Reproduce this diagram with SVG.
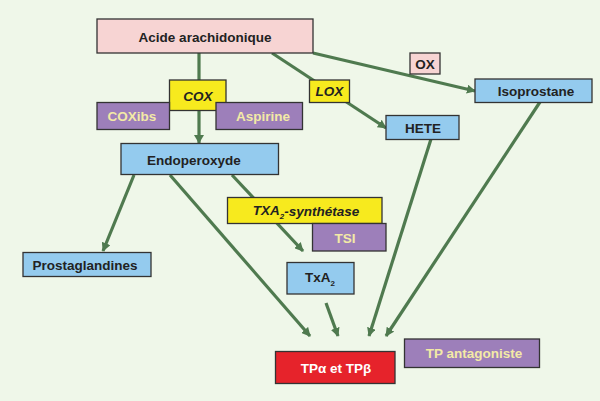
<svg xmlns="http://www.w3.org/2000/svg" width="600" height="401" viewBox="0 0 600 401">
<defs>
<marker id="ah" viewBox="0 0 10 10" refX="9" refY="5" markerWidth="9" markerHeight="9" markerUnits="userSpaceOnUse" orient="auto">
<path d="M0,0 L10,5 L0,10 z" fill="#4f7a4f"/>
</marker>
<style>
.bx{stroke:#333;stroke-width:1.3}
.pink{fill:#f7d4d3}
.blue{fill:#94cbee}
.yel{fill:#f7ea1e}
.pur{fill:#9d7fba}
.red{fill:#e6232b}
text{font-family:"Liberation Sans","DejaVu Sans",sans-serif;font-weight:bold;font-size:13.5px;text-anchor:middle;dominant-baseline:central}
.dk{fill:#222}
.cr{fill:#f3eaa6}
.wh{fill:#fff}
.it{font-style:italic}
.cn line{stroke:#4f7a4f;stroke-width:3.2;fill:none}
</style>
</defs>
<rect width="600" height="401" fill="#eff7e9"/>
<g class="cn" id="connectors">
<line x1="199" y1="53" x2="199" y2="143"/>
<line x1="272" y1="53" x2="386" y2="128" marker-end="url(#ah)"/>
<line x1="313" y1="53" x2="475" y2="91" marker-end="url(#ah)"/>
<line x1="134" y1="175" x2="103" y2="251" marker-end="url(#ah)"/>
<line x1="170" y1="175" x2="310" y2="336" marker-end="url(#ah)"/>
<line x1="232" y1="175" x2="303" y2="251" marker-end="url(#ah)"/>
<line x1="326" y1="303" x2="338" y2="336" marker-end="url(#ah)"/>
<line x1="431" y1="139" x2="369" y2="336" marker-end="url(#ah)"/>
<line x1="540" y1="102" x2="386" y2="336" marker-end="url(#ah)"/>
<path d="M194,135 L199,143.5 L204,135 z" fill="#4f7a4f"/>
</g>
<g id="acide"><rect class="bx pink" x="97" y="19" width="216" height="34"/><text class="dk" x="205" y="37">Acide arachidonique</text></g>
<g id="ox"><rect class="bx pink" x="410" y="53" width="30" height="21"/><text class="dk" x="425" y="64">OX</text></g>
<g id="cox"><rect class="bx yel" x="169.5" y="80" width="56.5" height="30.5"/><text class="dk it" x="198" y="96">COX</text></g>
<g id="lox"><rect class="bx yel" x="309.5" y="80" width="40" height="22.5"/><text class="dk it" x="329.5" y="91.5">LOX</text></g>
<g id="isoprostane"><rect class="bx blue" x="475" y="79" width="117" height="23.5"/><text class="dk" x="536" y="91">Isoprostane</text></g>
<g id="coxibs"><rect class="bx pur" x="97" y="102.5" width="72.5" height="27"/><text class="cr" x="132" y="116.5">COXibs</text></g>
<g id="aspirine"><rect class="bx pur" x="216" y="102.5" width="86.5" height="27"/><text class="cr" x="263" y="116.5">Aspirine</text></g>
<g id="hete"><rect class="bx blue" x="386" y="115.5" width="73" height="24"/><text class="dk" x="423" y="128">HETE</text></g>
<g id="endoperoxyde"><rect class="bx blue" x="121" y="143.5" width="157.5" height="31"/><text class="dk" x="194" y="160">Endoperoxyde</text></g>
<g id="txa2synth"><rect class="bx yel" x="227.5" y="197.5" width="154.5" height="26"/><text class="dk it" x="306" y="210.5">TXA<tspan font-size="8" dy="5">2</tspan><tspan dy="-5">-synthétase</tspan></text></g>
<g id="tsi"><rect class="bx pur" x="312.5" y="223.5" width="73.5" height="27.5"/><text class="cr" x="345" y="238">TSI</text></g>
<g id="prostaglandines"><rect class="bx blue" x="23" y="252.5" width="128" height="24"/><text class="dk" x="85" y="265">Prostaglandines</text></g>
<g id="txa2"><rect class="bx blue" x="287" y="262.5" width="67" height="31.5"/><text class="dk" x="320" y="277.5">TxA<tspan font-size="8" dy="5">2</tspan></text></g>
<g id="tp"><rect class="bx red" x="275.5" y="351.5" width="119.5" height="32"/><text class="wh" x="336" y="368">TPα et TPβ</text></g>
<g id="tpantag"><rect class="bx pur" x="404.5" y="339" width="135" height="28.5"/><text class="cr" x="474" y="353">TP antagoniste</text></g>
</svg>
